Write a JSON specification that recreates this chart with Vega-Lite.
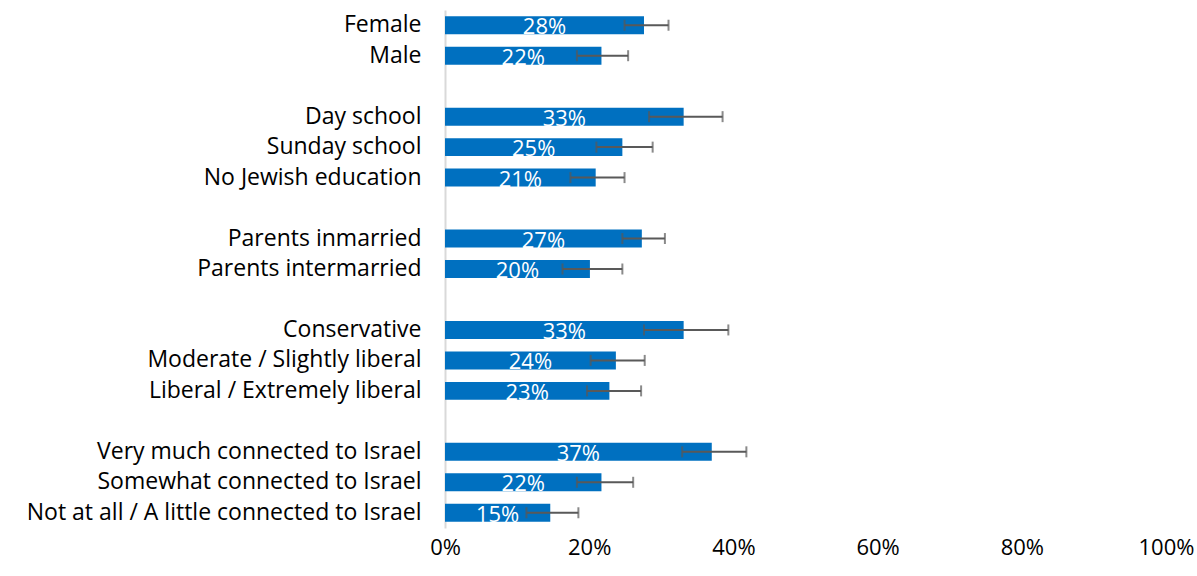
{
  "$schema": "https://vega.github.io/schema/vega-lite/v6.json",
  "width": 721,
  "height": 518,
  "autosize": {"type": "none"},
  "padding": {"left": 445, "top": 10, "right": 31, "bottom": 48},
  "background": "white",
  "config": {"view": {"stroke": null}, "font": "Open Sans"},
  "data": {"values": [
    {"cat": "Female", "value": 0.276, "lo": 0.249, "hi": 0.310},
    {"cat": "Male", "value": 0.217, "lo": 0.183, "hi": 0.254},
    {"cat": "Day school", "value": 0.331, "lo": 0.283, "hi": 0.385},
    {"cat": "Sunday school", "value": 0.246, "lo": 0.210, "hi": 0.288},
    {"cat": "No Jewish education", "value": 0.209, "lo": 0.174, "hi": 0.249},
    {"cat": "Parents inmarried", "value": 0.273, "lo": 0.246, "hi": 0.305},
    {"cat": "Parents intermarried", "value": 0.201, "lo": 0.163, "hi": 0.246},
    {"cat": "Conservative", "value": 0.331, "lo": 0.276, "hi": 0.393},
    {"cat": "Moderate / Slightly liberal", "value": 0.237, "lo": 0.202, "hi": 0.277},
    {"cat": "Liberal / Extremely liberal", "value": 0.228, "lo": 0.197, "hi": 0.272},
    {"cat": "Very much connected to Israel", "value": 0.370, "lo": 0.329, "hi": 0.418},
    {"cat": "Somewhat connected to Israel", "value": 0.217, "lo": 0.183, "hi": 0.261},
    {"cat": "Not at all / A little connected to Israel", "value": 0.146, "lo": 0.113, "hi": 0.185}
  ]},
  "encoding": {
    "y": {
      "field": "cat", "type": "nominal",
      "scale": {
        "domain": ["Female", "Male", " ", "Day school", "Sunday school", "No Jewish education", "  ", "Parents inmarried", "Parents intermarried", "   ", "Conservative", "Moderate / Slightly liberal", "Liberal / Extremely liberal", "    ", "Very much connected to Israel", "Somewhat connected to Israel", "Not at all / A little connected to Israel"],
        "paddingInner": 0.41, "paddingOuter": 0.205
      },
      "axis": {
        "title": null, "ticks": false, "tickSize": 0, "labelPadding": 24,
        "labelFontSize": 23, "labelColor": "#000000", "labelFont": "Open Sans",
        "domainColor": "#d9d9d9", "domainWidth": 2, "grid": false, "labelLimit": 500
      }
    }
  },
  "layer": [
    {
      "layer": [
        {
          "mark": {"type": "bar", "color": "#0070C0"},
          "encoding": {
            "x": {
              "field": "value", "type": "quantitative",
              "scale": {"domain": [0, 1], "nice": false},
              "axis": {
                "title": null, "format": ".0%", "values": [0, 0.2, 0.4, 0.6, 0.8, 1],
                "domain": false, "ticks": false, "tickSize": 0, "grid": false, "labelFlush": false,
                "labelFontSize": 22, "labelColor": "#000000", "labelPadding": 9, "labelFont": "Open Sans"
              }
            }
          }
        },
        {
          "mark": {"type": "rule", "color": "#595959", "strokeWidth": 2},
          "encoding": {
            "x": {"field": "lo", "type": "quantitative"},
            "x2": {"field": "hi"}
          }
        },
        {
          "mark": {"type": "tick", "color": "#595959", "orient": "vertical", "size": 11, "thickness": 2},
          "encoding": {"x": {"field": "lo", "type": "quantitative"}}
        },
        {
          "mark": {"type": "tick", "color": "#595959", "orient": "vertical", "size": 11, "thickness": 2},
          "encoding": {"x": {"field": "hi", "type": "quantitative"}}
        }
      ]
    },
    {
      "mark": {"type": "text", "color": "white", "fontSize": 22, "baseline": "middle", "align": "center", "dy": 2, "font": "Open Sans"},
      "encoding": {
        "x": {"field": "value", "type": "quantitative", "scale": {"domain": [0, 2], "nice": false}, "axis": null},
        "text": {"field": "value", "type": "quantitative", "format": ".0%"}
      }
    }
  ],
  "resolve": {"scale": {"x": "independent"}}
}
